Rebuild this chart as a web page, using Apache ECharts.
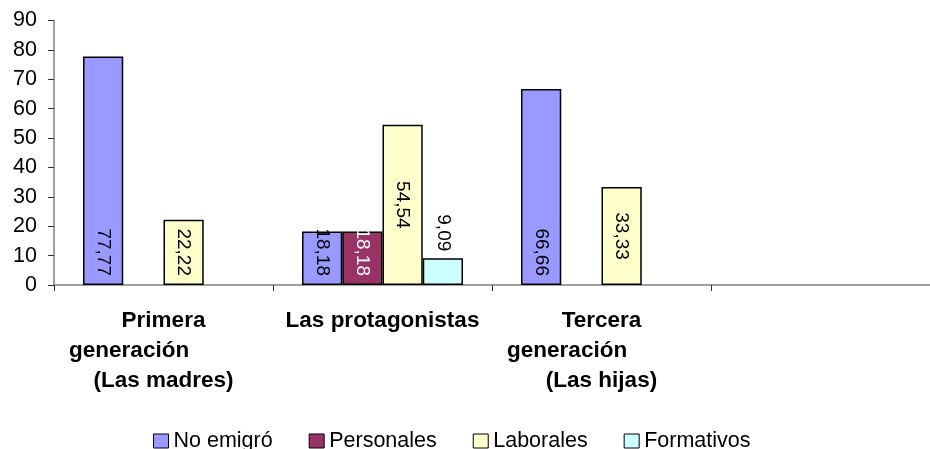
<!DOCTYPE html>
<html>
<head>
<meta charset="utf-8">
<script src="https://cdn.jsdelivr.net/npm/echarts@6/dist/echarts.min.js"></script>
<style>
  html, body { margin: 0; padding: 0; background: #fff; }
  #chart { width: 930px; height: 449px; }
</style>
</head>
<body>
<div id="chart"></div>
<script>
var categories = [
  'Primera\ngeneración           \n(Las madres)',
  'Las protagonistas',
  'Tercera\ngeneración           \n(Las hijas)',
  ''
];
var seriesNames = ['No emigró', 'Personales', 'Laborales', 'Formativos'];
var noEmigro   = [77.77, 18.18, 66.66, null];
var personales = [null, 18.18, null, null];
var laborales  = [22.22, 54.54, 33.33, null];
var formativos = [null, 9.09, null, null];
var yTicks = { min: 0, max: 90, interval: 10 };

var colors = ['#9999FF', '#993366', '#FFFFCC', '#CCFFFF'];
var labelColors = ['#000', '#fff', '#000', '#000'];
// where each value label sits: b = bottom, c = centre, t = above bar
var labelPlace = [
  ['b', 'b', 'b', null],
  [null, 'b', null, null],
  ['b', 'c', 'c', null],
  [null, 't', null, null]
];

var chart = echarts.init(document.getElementById('chart'));

function fmt(p) {
  return p.value == null ? '' : p.value.toFixed(2).replace('.', ',');
}

function buildData(values, si) {
  return values.map(function (v, i) {
    if (v == null) return null;
    var place = labelPlace[si][i];
    var label;
    if (place === 'c') {
      label = { position: 'inside', align: 'center', verticalAlign: 'middle' };
    } else if (place === 't') {
      label = { position: 'top', distance: 7, align: 'right', verticalAlign: 'middle' };
    } else {
      label = { position: 'insideBottom', distance: 9, align: 'right', verticalAlign: 'middle' };
    }
    return { value: v, label: label };
  });
}

var allValues = [noEmigro, personales, laborales, formativos];

var series = allValues.map(function (vals, si) {
  return {
    name: seriesNames[si],
    type: 'bar',
    barGap: '0%',
    barCategoryGap: '26.5%',
    data: buildData(vals, si),
    itemStyle: { color: colors[si], borderColor: '#000', borderWidth: 1.5 },
    label: {
      show: true,
      rotate: -90,
      formatter: fmt,
      color: labelColors[si],
      fontFamily: 'Liberation Sans',
      fontSize: 19
    },
    emphasis: { disabled: true }
  };
});

var option = {
  animation: false,
  grid: { left: 54, right: -8, top: 20.5, bottom: 164, containLabel: false },
  legend: {
    data: seriesNames,
    left: 148,
    top: 425,
    icon: 'rect',
    itemWidth: 15,
    itemHeight: 14,
    itemGap: 36,
    itemStyle: { borderColor: '#000', borderWidth: 1 },
    textStyle: { fontFamily: 'Liberation Sans', fontSize: 21.5, color: '#000' }
  },
  xAxis: {
    type: 'category',
    data: categories,
    axisLine: { lineStyle: { color: '#808080', width: 1.5 } },
    axisTick: { show: true, length: 6, lineStyle: { color: '#333' } },
    axisLabel: {
      interval: 0,
      margin: 21,
      fontFamily: 'Liberation Sans',
      fontWeight: 'bold',
      fontSize: 22.5,
      lineHeight: 30,
      color: '#000'
    },
    splitLine: { show: false }
  },
  yAxis: {
    type: 'value',
    min: yTicks.min,
    max: yTicks.max,
    interval: yTicks.interval,
    axisLine: { show: true, lineStyle: { color: '#808080', width: 1.5 } },
    axisTick: { show: true, length: 6, lineStyle: { color: '#333' } },
    axisLabel: {
      margin: 17,
      fontFamily: 'Liberation Sans',
      fontSize: 21.5,
      color: '#000'
    },
    splitLine: { show: false }
  },
  series: series
};

chart.setOption(option);
</script>
</body>
</html>
